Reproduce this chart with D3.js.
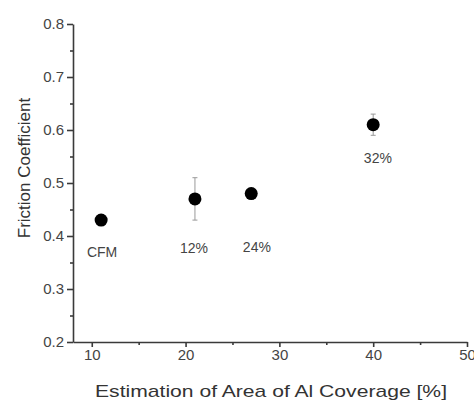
<!DOCTYPE html>
<html>
<head>
<meta charset="utf-8">
<script src="https://cdn.jsdelivr.net/npm/d3@7"></script>
<style>
  body { margin: 0; background: #fff; }
  svg { display: block; }
</style>
</head>
<body>
<div id="chart"></div>
<script>
// data
const labels   = ["CFM", "12%", "24%", "32%"];
const coverage = [11, 21, 27, 40];
const friction = [0.43, 0.47, 0.48, 0.61];
const errors   = [0.01, 0.04, 0.01, 0.02];
// where each annotation sits, in data units
const labelX = [11.1, 20.9, 27.6, 40.5];
const labelY = [0.37, 0.377, 0.379, 0.547];

const xTicks = [10, 20, 30, 40, 50];
const yTicks = [0.2, 0.3, 0.4, 0.5, 0.6, 0.7, 0.8];
const xMinor = [15, 25, 35, 45];
const yMinor = [0.25, 0.35, 0.45, 0.55, 0.65, 0.75];

const W = 474, H = 403;
const plotL = 73, plotR = 467, plotT = 24, plotB = 342;

const svg = d3.select("#chart").append("svg")
  .attr("width", W).attr("height", H);

const x = d3.scaleLinear().domain([8, 50]).range([plotL, plotR]);
const y = d3.scaleLinear().domain([0.2, 0.8]).range([plotB, plotT]);

const axisColor = "#3a3a3a";
const font = "Liberation Sans, Arial, sans-serif";

// x axis
const gx = svg.append("g")
  .attr("transform", `translate(0,${plotB})`)
  .call(d3.axisBottom(x).tickValues(xTicks).tickSize(5).tickSizeOuter(0).tickFormat(d3.format("d")));
svg.append("g")
  .attr("transform", `translate(0,${plotB})`)
  .call(d3.axisBottom(x).tickValues(xMinor).tickSize(3).tickSizeOuter(0).tickFormat(""))
  .select(".domain").remove();

// y axis
const gy = svg.append("g")
  .attr("transform", `translate(${plotL},0)`)
  .call(d3.axisLeft(y).tickValues(yTicks).tickSize(6).tickSizeOuter(0).tickFormat(d3.format(".1f")));
svg.append("g")
  .attr("transform", `translate(${plotL},0)`)
  .call(d3.axisLeft(y).tickValues(yMinor).tickSize(3).tickSizeOuter(0).tickFormat(""))
  .select(".domain").remove();

svg.selectAll(".domain, .tick line")
  .attr("stroke", axisColor).attr("stroke-width", 1.6);
svg.selectAll(".tick text")
  .attr("fill", "#444")
  .style("font-family", font)
  .style("font-size", "15px");
gy.selectAll(".tick text").attr("x", -9);
gx.selectAll(".tick text").attr("y", 7);

// error bars
const pts = coverage.map((c, i) => ({x: c, y: friction[i], e: errors[i]}));
const eb = svg.append("g").attr("stroke", "#999").attr("stroke-width", 1);
eb.selectAll(".bar").data(pts).join("line")
  .attr("x1", d => x(d.x)).attr("x2", d => x(d.x))
  .attr("y1", d => y(d.y - d.e)).attr("y2", d => y(d.y + d.e));
eb.selectAll(".capT").data(pts).join("line")
  .attr("x1", d => x(d.x) - 2.5).attr("x2", d => x(d.x) + 2.5)
  .attr("y1", d => y(d.y + d.e)).attr("y2", d => y(d.y + d.e));
eb.selectAll(".capB").data(pts).join("line")
  .attr("x1", d => x(d.x) - 2.5).attr("x2", d => x(d.x) + 2.5)
  .attr("y1", d => y(d.y - d.e)).attr("y2", d => y(d.y - d.e));

// points
svg.append("g").selectAll("circle").data(pts).join("circle")
  .attr("cx", d => x(d.x)).attr("cy", d => y(d.y))
  .attr("r", 6.5).attr("fill", "#000");

// annotations
svg.append("g").selectAll("text").data(labels).join("text")
  .attr("x", (d, i) => x(labelX[i]))
  .attr("y", (d, i) => y(labelY[i]))
  .attr("text-anchor", "middle")
  .attr("dominant-baseline", "central")
  .attr("fill", "#444")
  .style("font-family", font)
  .style("font-size", "14px")
  .text(d => d);

// axis titles
svg.append("text")
  .attr("x", 271).attr("y", 397)
  .attr("text-anchor", "middle")
  .attr("textLength", 352)
  .attr("lengthAdjust", "spacingAndGlyphs")
  .attr("fill", "#333")
  .style("font-family", font)
  .style("font-size", "17px")
  .text("Estimation of Area of Al Coverage [%]");

svg.append("text")
  .attr("transform", "translate(24,168) rotate(-90)")
  .attr("text-anchor", "middle")
  .attr("dominant-baseline", "central")
  .attr("fill", "#333")
  .style("font-family", font)
  .style("font-size", "17px")
  .text("Friction Coefficient");
</script>
</body>
</html>
